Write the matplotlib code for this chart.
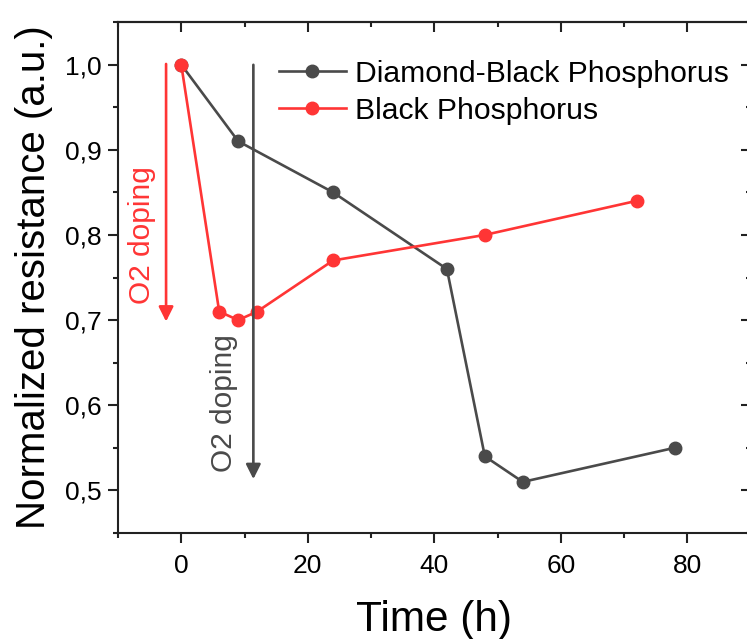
import matplotlib
matplotlib.use("Agg")
import matplotlib.pyplot as plt
from matplotlib.ticker import MultipleLocator, FuncFormatter

plt.rcParams['font.family'] = ['Liberation Sans', 'DejaVu Sans']

# Data
time_dbp = [0, 9, 24, 42, 48, 54, 78]
res_dbp = [1.00, 0.91, 0.85, 0.76, 0.54, 0.51, 0.55]
time_bp = [0, 6, 9, 12, 24, 48, 72]
res_bp = [1.00, 0.71, 0.70, 0.71, 0.77, 0.80, 0.84]
label_dbp = "Diamond-Black Phosphorus"
label_bp = "Black Phosphorus"

GRAY = "#4a4a4a"
RED = "#ff3535"

fig = plt.figure(figsize=(7.47, 6.39), dpi=100)
ax = fig.add_axes([118/747, 1-533/639, 632.5/747, 511/639])

ax.plot(time_dbp, res_dbp, '-o', color=GRAY, lw=1.9, ms=9, label=label_dbp, zorder=3)
ax.plot(time_bp, res_bp, '-o', color=RED, lw=1.9, ms=9, label=label_bp, zorder=3)

ax.set_xlim(-10, 90)
ax.set_ylim(0.45, 1.05)
ax.xaxis.set_major_locator(MultipleLocator(20))
ax.xaxis.set_minor_locator(MultipleLocator(10))
ax.yaxis.set_major_locator(MultipleLocator(0.1))
ax.yaxis.set_minor_locator(MultipleLocator(0.05))
ax.yaxis.set_major_formatter(FuncFormatter(lambda v, p: f"{v:.1f}".replace('.', ',')))

ax.tick_params(which='major', direction='out', length=7, width=1.5, labelsize=19, color='#222222')
ax.tick_params(which='minor', direction='out', length=3.5, width=1.5, color='#222222')
ax.tick_params(axis='x', pad=8)
ax.tick_params(axis='y', pad=5)
for s in ax.spines.values():
    s.set_linewidth(1.5)
    s.set_color('#222222')

secx = ax.secondary_xaxis('top')
secx.xaxis.set_major_locator(MultipleLocator(20))
secx.xaxis.set_minor_locator(MultipleLocator(10))
secx.tick_params(which='major', direction='in', length=7, width=1.5, labeltop=False, color='#222222')
secx.tick_params(which='minor', direction='in', length=3.5, width=1.5, color='#222222')
secx.spines['top'].set_linewidth(1.5)
secy = ax.secondary_yaxis('right')
secy.yaxis.set_major_locator(MultipleLocator(0.1))
secy.yaxis.set_minor_locator(MultipleLocator(0.05))
secy.tick_params(which='major', direction='in', length=7, width=1.5, labelright=False, color='#222222')
secy.tick_params(which='minor', direction='in', length=3.5, width=1.5, color='#222222')

ax.set_xlabel("Time (h)", fontsize=30.5, labelpad=16)
ax.set_ylabel("Normalized resistance (a.u.)", fontsize=29, labelpad=8)

# Arrows and annotations
ax.annotate("", xy=(-2.4, 0.695), xytext=(-2.4, 1.004),
            arrowprops=dict(arrowstyle='-|>', color=RED, lw=1.9, mutation_scale=22))
ax.annotate("", xy=(11.4, 0.51), xytext=(11.4, 1.003),
            arrowprops=dict(arrowstyle='-|>', color=GRAY, lw=1.9, mutation_scale=22))
ax.text(-6.2, 0.80, "O2 doping", color=RED, fontsize=21.5, rotation=90, ha='center', va='center')
ax.text(6.8, 0.602, "O2 doping", color=GRAY, fontsize=21.5, rotation=90, ha='center', va='center')

ax.legend(loc='upper left', bbox_to_anchor=(0.255, 0.926), frameon=False, fontsize=21.7,
          handlelength=2.2, handletextpad=0.3, labelspacing=0.3, borderpad=0, borderaxespad=0)

fig.savefig("out.png", dpi=100)
